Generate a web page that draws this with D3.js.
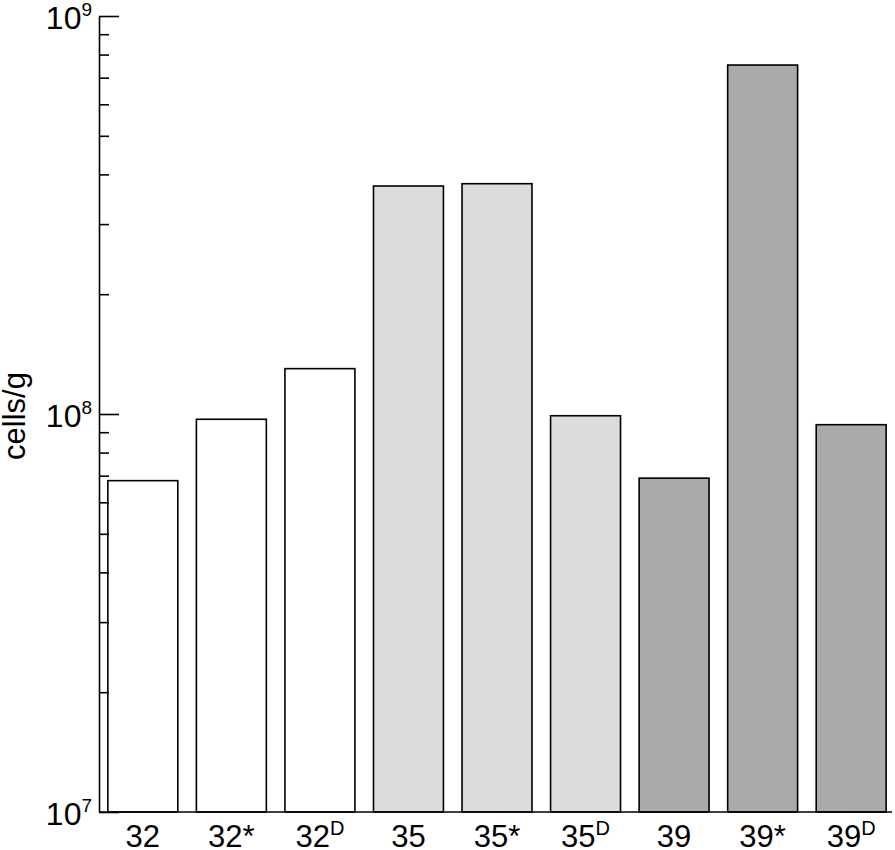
<!DOCTYPE html>
<html>
<head>
<meta charset="utf-8">
<script src="https://cdn.jsdelivr.net/npm/d3@7"></script>
<style>
  body { margin: 0; background: #fff; }
  text { font-family: "Liberation Sans", Arial, sans-serif; fill: #000; }
</style>
</head>
<body>
<script>
var labels = ["32", "32*", "32D", "35", "35*", "35D", "39", "39*", "39D"];
var values = [6.8e7, 9.7e7, 1.3e8, 3.74e8, 3.79e8, 9.9e7, 6.9e7, 7.53e8, 9.4e7];
var groups = ["32", "32", "32", "35", "35", "35", "39", "39", "39"];
var groupColors = { "32": "#ffffff", "35": "#dcdcdc", "39": "#aaaaaa" };
var majorTicks = [1e7, 1e8, 1e9];
var majorExp = ["7", "8", "9"];

var width = 895, height = 850;
var margin = { left: 99, right: 0, top: 16, bottom: 38 };

var svg = d3.select("body").append("svg")
    .attr("width", width)
    .attr("height", height);

var x = d3.scaleBand()
    .domain(labels)
    .range([margin.left, width])
    .paddingInner(0.21)
    .paddingOuter(0.1);

var y = d3.scaleLog()
    .domain([1e7, 1e9])
    .range([height - margin.bottom, margin.top]);

// bars
svg.selectAll(".bar")
    .data(labels)
    .enter()
    .append("rect")
    .attr("class", "bar")
    .attr("x", function (d) { return x(d); })
    .attr("width", x.bandwidth())
    .attr("y", function (d, i) { return y(values[i]); })
    .attr("height", function (d, i) { return y(1e7) - y(values[i]); })
    .attr("fill", function (d, i) { return groupColors[groups[i]]; })
    .attr("stroke", "#000")
    .attr("stroke-width", 1.6);

// minor ticks
var minor = [];
[1e7, 1e8].forEach(function (b) {
    for (var k = 2; k <= 9; k++) minor.push(b * k);
});

svg.append("g")
    .attr("transform", "translate(" + margin.left + ",0)")
    .call(d3.axisLeft(y).tickValues(minor).tickSize(-10).tickFormat(""))
    .call(function (g) { g.select(".domain").remove(); })
    .selectAll("line").attr("stroke", "#000").attr("stroke-width", 1.6);

// major ticks + axis line
var yAxis = svg.append("g")
    .attr("transform", "translate(" + margin.left + ",0)")
    .call(d3.axisLeft(y).tickValues(majorTicks).tickSize(-20).tickSizeOuter(0).tickFormat(""));
yAxis.select(".domain").attr("stroke", "#000").attr("stroke-width", 1.6);
yAxis.selectAll("line").attr("stroke", "#000").attr("stroke-width", 1.6);

var lab = svg.append("g").selectAll("text")
    .data(majorTicks)
    .enter()
    .append("text")
    .attr("x", 92)
    .attr("y", function (d) { return y(d) + 13; })
    .attr("text-anchor", "end")
    .style("font-size", "32px");
lab.append("tspan").text("10");
lab.append("tspan")
    .attr("dy", -13)
    .style("font-size", "19px")
    .text(function (d, i) { return majorExp[i]; });

// x axis
var xAxis = svg.append("g")
    .attr("transform", "translate(0," + y(1e7) + ")")
    .call(d3.axisBottom(x).tickSize(0).tickSizeOuter(0).tickFormat(""));
xAxis.select(".domain").attr("stroke", "#000").attr("stroke-width", 1.6)
    .attr("d", "M" + margin.left + ",0H" + (width - 3));

var xl = svg.append("g").selectAll("text")
    .data(labels)
    .enter()
    .append("text")
    .attr("x", function (d) { return x(d) + x.bandwidth() / 2; })
    .attr("y", 847)
    .attr("text-anchor", "middle")
    .style("font-size", "31px");
xl.append("tspan").text(function (d) { return d.replace("D", ""); });
xl.filter(function (d) { return d.indexOf("D") >= 0; })
    .append("tspan")
    .attr("dy", -12)
    .style("font-size", "20px")
    .text("D");

svg.append("text")
    .attr("transform", "translate(25,416) rotate(-90)")
    .attr("text-anchor", "middle")
    .style("font-size", "31px")
    .text("cells/g");
</script>
</body>
</html>
